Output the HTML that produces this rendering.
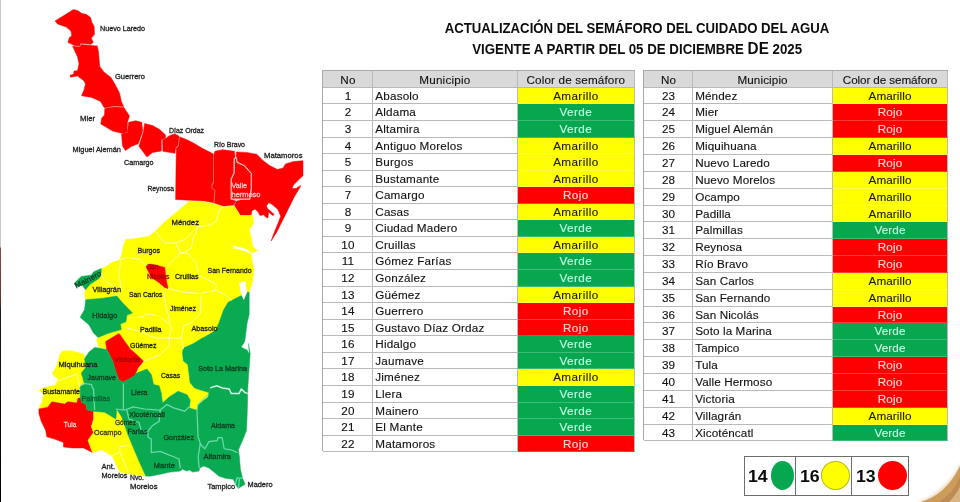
<!DOCTYPE html>
<html lang="es"><head><meta charset="utf-8"><title>Semáforo del cuidado del agua</title>
<style>
html,body{margin:0;padding:0;background:#fff}
body{width:960px;height:502px;position:relative;overflow:hidden;font-family:"Liberation Sans", sans-serif;color:#111}
.edge{position:absolute;left:0;top:0;width:1.3px;height:502px;background:linear-gradient(#c6c8d4 0,#c8c8cc 247px,#8a4a3a 248px,#6a3326 300px,#1a1a1a 312px,#000 502px)}
.map{position:absolute;left:0;top:0}
.title{position:absolute;left:320px;width:634px;text-align:center;font-weight:bold;font-size:14.6px;line-height:17px;white-space:nowrap;color:#0d0d0d}
.title span.t{display:inline-block;transform-origin:50% 50%}
.tbl{position:absolute;box-sizing:border-box;border-left:1px solid #a9a9a9;border-top:1px solid #a9a9a9}
.row{position:absolute;left:0;width:100%;display:flex;box-sizing:border-box;-webkit-text-stroke:.12px currentColor}
.row.hd{background:#d9d9d9}
.c{box-sizing:border-box;border-right:1px solid #b9b9b9;border-bottom:1px solid #b9b9b9;white-space:nowrap;overflow:hidden;text-align:center;height:100%}
.c.n{padding-left:1.4px}
.c.m{text-align:left;padding-left:2.5px}
.c.m.ctr{text-align:center;padding-left:0}
.c.s{flex:1}
.am,.ve,.ro{border-bottom-color:rgba(255,255,255,.22)}
.am{background:#ffff00;color:#1a1a00}
.ve{background:#07a750;color:#c4ffe4}
.ro{background:#ff0000;color:#ffd9d9}
.legend{position:absolute;left:743.5px;top:455.8px;width:165px;height:39.8px;box-sizing:border-box;border:1px solid #6e6e6e;background:#fff}
.legend .d{position:absolute;top:0;width:1px;height:100%;background:#6e6e6e}
.legend b{position:absolute;top:11.3px;font-size:16.4px;line-height:17px;color:#0a0a0a;transform:scaleX(1.08);transform-origin:0 50%}
.dot{position:absolute;border-radius:50%}
.corner{position:absolute;right:0;bottom:0}
</style></head><body>
<div class="edge"></div>
<svg class="map" width="320" height="502" viewBox="0 0 320 502" font-family='"Liberation Sans", sans-serif' font-size="7.7"><polygon fill="#ff0000" stroke="#ff0000" stroke-width=".5" stroke-linejoin="round" points="55.1,21.0 73.4,9.6 78.2,10.8 81.7,13.5 86.2,14.3 90.6,17.5 91.8,22.3 94.1,26.3 94.5,34.2 91.3,38.2 93.3,42.2 91.0,44.3 80.6,43.3 79.8,45.9 74.2,45.4 67.9,42.2 69.5,37.4 71.8,35.8 71.0,31.0 66.3,27.1 57.5,23.9"/>
<polygon fill="#ff0000" stroke="#ff0000" stroke-width=".5" stroke-linejoin="round" points="72.6,46.2 79.8,47.0 81.1,44.6 91.0,45.4 97.3,45.9 98.6,52.5 99.2,60.5 99.8,66.4 103.8,71.9 111.0,77.5 115.7,85.5 119.7,93.4 121.3,101.4 123.7,106.6 114.1,105.9 104.6,107.8 103.8,107.0 100.6,101.4 91.8,97.4 81.5,95.8 83.9,90.3 85.5,83.9 83.9,80.7 77.5,75.9 70.4,77.2 70.4,75.1 73.5,74.3 74.0,71.1 77.5,70.8 79.0,63.7 77.4,56.5"/>
<polygon fill="#ff0000" stroke="#ff0000" stroke-width=".5" stroke-linejoin="round" points="104.8,108.4 114.1,106.9 123.9,107.6 129.5,115.9 127.4,122.3 127.1,131.8 123.9,133.8 112.7,131.1 100.8,123.9 101.6,118.3 104.5,115.1"/>
<polygon fill="#ff0000" stroke="#ff0000" stroke-width=".5" stroke-linejoin="round" points="128.7,122.3 135.8,120.7 141.7,122.3 142.7,131.1 138.2,143.8 131.8,146.2 125.5,150.6 122.6,146.2 121.5,134.2 127.4,132.6"/>
<polygon fill="#ff0000" stroke="#ff0000" stroke-width=".5" stroke-linejoin="round" points="144.6,123.6 152.5,125.5 159.7,129.5 165.6,135.0 165.3,138.2 161.3,139.8 161.3,151.0 152.5,152.5 147.0,157.0 138.9,146.2 143.5,131.8"/>
<polygon fill="#ff0000" stroke="#ff0000" stroke-width=".5" stroke-linejoin="round" points="166.1,138.2 169.3,135.8 174.8,133.8 179.1,136.3 178.0,145.4 175.6,147.8 174.8,153.3 162.9,151.3 162.6,140.1"/>
<polygon fill="#ff0000" stroke="#ff0000" stroke-width=".5" stroke-linejoin="round" points="179.8,137.0 185.9,139.3 193.9,143.3 201.8,148.1 209.8,152.1 213.3,154.0 213.0,182.3 211.4,185.5 211.7,188.7 214.6,190.3 213.8,199.8 213.5,202.8 204.6,201.0 189.0,200.2 175.6,199.5 176.3,148.3 178.7,145.9"/>
<polygon fill="#ff0000" stroke="#ff0000" stroke-width=".5" stroke-linejoin="round" points="214.9,151.3 222.5,149.7 234.5,151.3 235.0,156.8 233.4,159.2 233.4,172.8 230.5,179.1 230.5,199.5 236.0,201.0 233.6,205.1 223.5,206.2 214.2,203.0 214.6,199.8 215.4,190.0 212.5,188.5 212.2,185.7 213.8,182.5 214.0,154.2"/>
<polygon fill="#ff0000" stroke="#ff0000" stroke-width=".5" stroke-linejoin="round" points="234.4,159.6 236.1,157.6 236.9,162.4 244.0,165.6 251.2,173.6 251.2,188.7 249.6,199.0 231.3,199.0 231.3,179.3 234.2,173.0"/>
<polygon fill="#ff0000" stroke="#ff0000" stroke-width=".5" stroke-linejoin="round" points="236.5,151.9 246.5,152.4 256.8,154.3 263.2,160.7 269.6,165.5 277.5,169.5 283.1,167.9 285.5,163.9 293.5,161.5 303.0,160.7 303.0,170.0 303.0,175.8 299.6,178.8 293.5,185.0 292.0,188.4 295.9,188.6 300.8,185.4 299.6,188.0 294.2,197.1 287.8,209.9 282.3,221.0 276.7,232.2 271.1,241.0 274.3,232.2 278.3,222.6 280.7,216.3 279.1,212.3 277.5,209.1 271.9,204.3 268.7,202.7 266.3,205.9 267.9,209.1 271.9,212.3 274.3,214.7 272.7,215.5 268.7,212.3 267.9,217.9 265.5,217.1 263.9,214.7 259.9,215.5 258.3,212.3 255.1,209.1 252.0,210.7 251.2,214.7 249.2,215.1 240.3,215.1 236.9,209.5 234.4,205.3 236.8,201.0 241.0,200.0 250.4,199.8 252.0,188.7 252.0,173.3 244.5,165.0 237.7,161.8 236.9,157.0 236.0,156.2"/>
<polygon fill="#ffff00" stroke="#ffff00" stroke-width=".5" stroke-linejoin="round" points="189.3,201.2 204.6,201.9 213.5,203.7 223.5,207.0 233.6,206.0 236.9,210.3 240.3,215.9 249.2,215.9 252.5,215.1 253.6,224.0 249.2,229.6 251.4,238.5 252.5,246.3 257.6,250.8 251.4,253.0 248.0,249.6 240.0,247.0 232.4,245.2 233.6,248.5 242.0,250.5 251.0,254.0 252.5,263.0 253.7,270.0 252.6,281.1 249.2,292.3 247.0,292.3 244.8,281.1 239.2,283.4 241.4,292.3 241.4,295.6 228.1,302.3 223.6,310.1 219.1,322.4 215.8,330.2 209.1,334.6 202.4,338.0 193.5,343.6 183.5,348.0 182.4,352.5 183.4,361.0 187.8,364.5 189.0,373.4 190.0,382.4 194.5,387.9 201.2,390.2 209.0,392.5 208.2,396.9 198.1,404.7 197.0,410.3 189.2,408.0 190.3,400.2 187.0,394.7 178.1,391.3 169.2,396.9 162.5,403.0 161.4,393.6 159.1,385.8 153.6,384.6 151.3,374.6 146.9,369.0 135.7,373.5 134.6,375.7 138.0,367.9 143.5,361.2 138.0,355.7 130.2,349.0 124.6,341.2 119.0,333.4 105.6,341.6 106.7,349.0 99.0,347.5 96.7,340.0 98.0,337.4 109.1,332.9 121.4,329.6 120.3,324.0 125.9,321.8 127.0,315.1 132.5,312.9 122.5,302.8 116.9,296.1 102.4,298.3 85.7,299.8 84.5,294.2 85.6,289.7 90.1,284.2 99.0,278.6 101.2,273.0 101.2,268.6 104.6,267.4 111.3,263.0 120.2,259.6 122.4,251.8 123.5,245.2 125.8,239.6 135.8,238.5 149.2,236.2 155.9,230.7 164.8,221.7 175.9,212.8"/>
<polygon fill="#ff0000" stroke="#ff0000" stroke-width=".5" stroke-linejoin="round" points="145.8,266.3 151.4,264.1 164.8,267.4 165.9,278.6 168.1,288.6 164.8,287.5 158.1,281.9 151.4,277.5 148.0,270.8"/>
<polygon fill="#ff0000" stroke="#ff0000" stroke-width=".5" stroke-linejoin="round" points="105.6,341.6 119.0,333.4 124.6,341.2 130.2,349.0 138.0,355.7 143.5,361.2 138.0,367.9 134.6,375.7 123.5,382.0 119.0,380.2 115.7,371.3 112.3,360.1 106.7,349.0"/>
<polygon fill="#09aa52" stroke="#09aa52" stroke-width=".5" stroke-linejoin="round" points="101.2,268.6 93.4,271.9 91.2,275.2 81.2,276.4 74.5,283.0 76.7,286.4 82.3,285.3 85.6,289.7 90.1,284.2 99.0,278.6 101.2,273.0"/>
<polygon fill="#09aa52" stroke="#09aa52" stroke-width=".5" stroke-linejoin="round" points="85.7,299.8 102.4,298.3 116.9,296.1 122.5,302.8 132.5,312.9 127.0,315.1 125.9,321.8 120.3,324.0 121.4,329.6 109.1,332.9 98.0,337.4 93.5,332.9 89.1,325.1 80.2,317.3 84.6,309.5"/>
<polygon fill="#ffff00" stroke="#ffff00" stroke-width=".5" stroke-linejoin="round" points="63.4,350.8 71.2,350.8 83.5,354.1 84.6,358.6 85.7,367.5 81.3,373.1 84.6,384.2 80.2,386.4 80.2,397.0 78.0,397.8 76.8,402.6 67.9,401.5 64.6,403.8 51.5,401.5 47.9,407.0 38.9,409.0 42.3,401.2 43.4,394.5 40.1,390.0 38.9,390.9 43.4,387.5 55.6,385.3 57.9,378.6 52.3,374.2 56.8,365.3 60.1,354.1"/>
<polygon fill="#ff0000" stroke="#ff0000" stroke-width=".5" stroke-linejoin="round" points="38.9,409.0 47.9,407.2 51.7,401.8 64.6,404.1 67.9,401.8 76.8,403.0 78.0,398.3 80.6,397.8 81.3,402.3 85.8,404.5 86.9,410.1 93.6,411.2 93.6,419.0 91.3,426.8 93.6,432.4 88.0,440.2 92.4,452.4 83.5,448.0 72.4,448.0 63.5,446.9 63.5,442.4 54.6,439.1 46.8,436.8 45.6,430.2 41.2,421.2 38.9,413.4"/>
<polygon fill="#ffff00" stroke="#ffff00" stroke-width=".5" stroke-linejoin="round" points="93.6,411.2 104.7,412.3 115.9,419.0 116.7,409.0 122.3,417.9 127.9,434.6 133.4,448.0 140.1,463.6 145.8,476.1 129.8,474.1 119.9,472.1 116.9,465.7 111.9,455.8 102.0,449.8 92.4,452.4 88.0,440.2 93.6,432.4 91.3,426.8 93.6,419.0"/>
<polygon fill="#09aa52" stroke="#09aa52" stroke-width=".5" stroke-linejoin="round" points="94.6,347.4 101.3,348.5 106.7,349.5 112.3,360.1 115.7,371.3 119.0,380.2 123.5,382.0 134.6,375.7 135.7,373.5 146.9,369.0 151.3,374.6 153.6,384.6 159.1,385.8 161.4,393.6 162.5,403.0 169.2,396.9 178.1,391.3 187.0,394.7 190.3,400.2 189.2,408.0 197.0,410.3 198.1,404.7 208.2,396.9 209.0,392.5 210.1,387.9 216.8,385.7 222.4,387.9 229.1,389.0 231.3,393.5 239.1,393.5 241.3,389.0 244.7,392.4 247.6,393.5 247.6,400.0 247.1,416.3 246.5,430.5 242.5,440.6 238.4,449.8 239.4,456.9 240.4,469.1 242.5,478.2 245.1,484.3 241.4,486.4 238.4,488.4 235.4,484.3 233.3,479.3 225.2,478.2 219.1,476.2 214.0,472.1 208.9,468.1 203.9,466.0 199.8,468.1 198.8,471.1 192.7,472.1 189.6,470.1 186.6,471.1 182.5,469.1 180.5,471.1 170.3,472.1 160.2,474.2 150.0,476.2 145.8,476.1 140.1,463.6 133.4,448.0 127.9,434.6 122.3,417.9 116.7,409.0 115.9,419.0 104.7,412.3 93.6,411.2 86.9,410.1 85.8,404.5 81.3,402.3 80.6,397.8 80.2,397.0 80.2,386.4 84.6,384.2 81.3,373.1 85.7,367.5 84.6,358.6 89.1,351.9"/>
<polygon fill="#09aa52" stroke="#09aa52" stroke-width=".5" stroke-linejoin="round" points="241.4,295.6 243.7,300.1 247.0,292.3 249.2,292.3 249.2,314.6 247.0,323.5 244.8,341.3 241.4,346.9 247.0,350.2 248.4,343.6 250.2,353.4 249.1,369.0 248.0,384.6 247.6,393.5 244.7,392.4 241.3,389.0 239.1,393.5 231.3,393.5 229.1,389.0 222.4,387.9 216.8,385.7 210.1,387.9 209.0,392.5 201.2,390.2 194.5,387.9 190.0,382.4 189.0,373.4 187.8,364.5 183.4,361.0 182.4,352.5 183.5,348.0 193.5,343.6 202.4,338.0 209.1,334.6 215.8,330.2 219.1,322.4 223.6,310.1 228.1,302.3"/>
<polygon fill="#fff" points="239.2,283.4 244.8,281.1 247.0,292.3 243.7,300.1 241.4,292.3"/>
<polygon fill="#fff" points="241.4,282.0 245.8,282.0 243.6,294.2 240.2,292.0"/>
<polygon fill="#fff" points="241.3,346.7 248.0,342.2 249.1,353.4 246.8,349.0"/>
<polyline fill="none" stroke="#fffff0" stroke-opacity=".85" stroke-width=".9" points="223.5,206.8 219.0,209.5 216.8,220.7 210.2,225.1 198.2,226.6 193.4,238.5 191.2,248.5 184.8,251.9 180.4,253.0"/>
<polyline fill="none" stroke="#fffff0" stroke-opacity=".85" stroke-width=".9" points="198.2,226.6 184.8,239.6 175.9,242.9 164.8,242.9 160.3,237.4 155.9,231.8"/>
<polyline fill="none" stroke="#fffff0" stroke-opacity=".85" stroke-width=".9" points="175.9,242.9 180.4,253.0 167.0,266.3"/>
<polyline fill="none" stroke="#fffff0" stroke-opacity=".85" stroke-width=".9" points="180.4,253.0 188.0,253.4 195.9,262.3 199.2,275.7 215.9,283.5 215.9,290.2"/>
<polyline fill="none" stroke="#fffff0" stroke-opacity=".85" stroke-width=".9" points="145.8,266.3 140.2,259.6 126.9,257.4 120.6,259.6"/>
<polyline fill="none" stroke="#fffff0" stroke-opacity=".85" stroke-width=".9" points="120.6,259.6 119.1,275.2 121.3,288.6 118.0,295.3"/>
<polyline fill="none" stroke="#fffff0" stroke-opacity=".85" stroke-width=".9" points="168.1,288.6 184.7,292.4 200.3,293.5 215.9,290.2 224.8,294.6 231.5,300.2"/>
<polyline fill="none" stroke="#fffff0" stroke-opacity=".85" stroke-width=".9" points="163.5,290.0 165.8,306.9 169.1,318.0 171.3,329.2 169.1,338.1"/>
<polyline fill="none" stroke="#fffff0" stroke-opacity=".85" stroke-width=".9" points="201.4,294.6 200.3,313.6 191.4,322.5 183.6,325.8 181.4,338.1 183.6,349.0"/>
<polyline fill="none" stroke="#fffff0" stroke-opacity=".85" stroke-width=".9" points="129.0,318.0 143.5,316.9 144.6,313.6 159.1,315.8 166.9,322.5 170.0,324.0"/>
<polyline fill="none" stroke="#fffff0" stroke-opacity=".85" stroke-width=".9" points="126.8,328.0 140.1,331.4 155.7,338.1 169.1,338.1"/>
<polyline fill="none" stroke="#fffff0" stroke-opacity=".85" stroke-width=".9" points="143.5,361.2 160.0,355.0 170.0,345.0 169.1,338.1"/>
<polyline fill="none" stroke="#fffff0" stroke-opacity=".85" stroke-width=".9" points="169.1,338.1 181.4,338.1"/>
<polyline fill="none" stroke="#fffff0" stroke-opacity=".85" stroke-width=".9" points="101.2,273.0 104.0,280.0 110.0,284.0 117.0,288.0"/>
<polyline fill="none" stroke="#fffff0" stroke-opacity=".85" stroke-width=".9" points="52.9,382.8 76.8,373.9 79.8,386.8"/>
<polyline fill="none" stroke="#fffff0" stroke-opacity=".85" stroke-width=".9" points="111.9,455.8 119.9,451.8 119.9,446.8 128.8,444.8"/>
<polyline fill="none" stroke="#fffff0" stroke-opacity=".85" stroke-width=".9" points="119.9,451.8 128.8,473.7"/>
<polyline fill="none" stroke="#7fe2b9" stroke-opacity=".85" stroke-width="1.25" points="80.2,386.0 83.5,383.3 91.3,384.5 93.6,390.0 94.7,410.1"/>
<polyline fill="none" stroke="#7fe2b9" stroke-opacity=".85" stroke-width="1.25" points="123.4,383.4 123.4,409.0"/>
<polyline fill="none" stroke="#7fe2b9" stroke-opacity=".85" stroke-width="1.25" points="115.6,409.0 124.5,410.1 133.4,406.8 144.6,409.0 160.2,410.1 166.9,404.6 173.6,407.9 184.7,411.2 189.2,406.8"/>
<polyline fill="none" stroke="#7fe2b9" stroke-opacity=".85" stroke-width="1.25" points="160.2,410.1 159.1,421.3 152.4,425.7 147.9,431.3 147.9,436.9 151.3,439.1 151.3,452.5 160.2,451.4 171.3,455.8 179.1,459.2 180.3,468.1"/>
<polyline fill="none" stroke="#7fe2b9" stroke-opacity=".85" stroke-width="1.25" points="126.8,410.1 129.0,419.0 139.0,422.4 141.2,430.2 146.8,432.4"/>
<polyline fill="none" stroke="#7fe2b9" stroke-opacity=".85" stroke-width="1.25" points="197.0,410.1 198.1,436.9 200.3,443.6 198.1,457.0 199.2,468.0"/>
<polyline fill="none" stroke="#7fe2b9" stroke-opacity=".85" stroke-width="1.25" points="199.8,443.7 204.9,448.8 208.9,441.7 217.1,440.6 218.1,437.6 222.1,437.6 224.2,448.8 231.3,449.8 237.4,452.8"/>
<polyline fill="none" stroke="#7fe2b9" stroke-opacity=".85" stroke-width="1.25" points="207.9,394.6 197.9,404.6 197.0,410.1"/>
<polyline fill="none" stroke="#ffffff" stroke-opacity=".85" stroke-width="1.5" points="210.1,387.9 216.8,385.7 222.4,387.9 229.1,389.0 231.3,393.5 239.1,393.5 241.3,389.0 244.7,392.4 247.6,393.5"/>
<polyline fill="none" stroke="#7fe2b9" stroke-opacity=".85" stroke-width="1.25" points="235.4,484.3 237.0,478.0 242.5,478.2"/>
<polyline fill="none" stroke="#7fe2b9" stroke-opacity=".85" stroke-width="1.25" points="238.4,488.4 239.5,479.0"/>
<polygon fill="none" stroke="#ffd6d6" stroke-width=".9" points="234.4,159.6 236.1,157.6 236.9,162.4 244.0,165.6 251.2,173.6 251.2,188.7 249.6,199.0 231.3,199.0 231.3,179.3 234.2,173.0"/>
<text x="100.0" y="31.0" fill="#1c1c1c" stroke="#1c1c1c" stroke-width=".3" textLength="45.0" lengthAdjust="spacingAndGlyphs">Nuevo Laredo</text>
<text x="115.0" y="79.0" fill="#1c1c1c" stroke="#1c1c1c" stroke-width=".3" textLength="30.0" lengthAdjust="spacingAndGlyphs">Guerrero</text>
<text x="80.0" y="120.5" fill="#1c1c1c" stroke="#1c1c1c" stroke-width=".3" textLength="15.0" lengthAdjust="spacingAndGlyphs">Mier</text>
<text x="72.5" y="152.0" fill="#1c1c1c" stroke="#1c1c1c" stroke-width=".3" textLength="48.5" lengthAdjust="spacingAndGlyphs">Miguel Alemán</text>
<text x="124.0" y="164.7" fill="#1c1c1c" stroke="#1c1c1c" stroke-width=".3" textLength="29.5" lengthAdjust="spacingAndGlyphs">Camargo</text>
<text x="169.0" y="132.5" fill="#1c1c1c" stroke="#1c1c1c" stroke-width=".3" textLength="35.0" lengthAdjust="spacingAndGlyphs">Díaz Ordaz</text>
<text x="214.0" y="146.9" fill="#1c1c1c" stroke="#1c1c1c" stroke-width=".3" textLength="31.0" lengthAdjust="spacingAndGlyphs">Río Bravo</text>
<text x="264.0" y="158.0" fill="#1c1c1c" stroke="#1c1c1c" stroke-width=".3" textLength="38.5" lengthAdjust="spacingAndGlyphs">Matamoros</text>
<text x="147.5" y="191.0" fill="#1c1c1c" stroke="#1c1c1c" stroke-width=".3" textLength="26.5" lengthAdjust="spacingAndGlyphs">Reynosa</text>
<text x="231.5" y="187.5" fill="#ffc9c9" stroke="#ffc9c9" stroke-width=".3" textLength="15.5" lengthAdjust="spacingAndGlyphs">Valle</text>
<text x="231.5" y="196.7" fill="#ffc9c9" stroke="#ffc9c9" stroke-width=".3" textLength="29.0" lengthAdjust="spacingAndGlyphs">hermoso</text>
<text x="171.5" y="225.0" fill="#1c1c1c" stroke="#1c1c1c" stroke-width=".3" textLength="27.5" lengthAdjust="spacingAndGlyphs">Méndez</text>
<text x="137.5" y="252.5" fill="#1c1c1c" stroke="#1c1c1c" stroke-width=".3" textLength="22.5" lengthAdjust="spacingAndGlyphs">Burgos</text>
<text x="147.0" y="269.0" fill="#a00000" stroke="#a00000" stroke-width=".3" textLength="11.5" lengthAdjust="spacingAndGlyphs">San</text>
<text x="147.0" y="278.5" fill="#a00000" stroke="#a00000" stroke-width=".3" textLength="22.5" lengthAdjust="spacingAndGlyphs">Nicolas</text>
<text x="175.0" y="278.5" fill="#1c1c1c" stroke="#1c1c1c" stroke-width=".3" textLength="23.5" lengthAdjust="spacingAndGlyphs">Cruillas</text>
<text x="207.5" y="272.5" fill="#1c1c1c" stroke="#1c1c1c" stroke-width=".3" textLength="44.0" lengthAdjust="spacingAndGlyphs">San Fernando</text>
<text x="92.5" y="292.0" fill="#1c1c1c" stroke="#1c1c1c" stroke-width=".3" textLength="28.5" lengthAdjust="spacingAndGlyphs">Villagrán</text>
<text x="129.0" y="297.0" fill="#1c1c1c" stroke="#1c1c1c" stroke-width=".3" textLength="33.5" lengthAdjust="spacingAndGlyphs">San Carlos</text>
<text x="170.0" y="311.0" fill="#1c1c1c" stroke="#1c1c1c" stroke-width=".3" textLength="26.0" lengthAdjust="spacingAndGlyphs">Jiménez</text>
<text x="92.3" y="317.7" fill="#083a1e" stroke="#083a1e" stroke-width=".3" textLength="25.0" lengthAdjust="spacingAndGlyphs">Hidalgo</text>
<text x="140.0" y="332.0" fill="#1c1c1c" stroke="#1c1c1c" stroke-width=".3" textLength="21.5" lengthAdjust="spacingAndGlyphs">Padilla</text>
<text x="191.5" y="331.0" fill="#1c1c1c" stroke="#1c1c1c" stroke-width=".3" textLength="26.0" lengthAdjust="spacingAndGlyphs">Abasolo</text>
<text x="130.0" y="347.5" fill="#1c1c1c" stroke="#1c1c1c" stroke-width=".3" textLength="26.5" lengthAdjust="spacingAndGlyphs">Güémez</text>
<text x="114.0" y="362.0" fill="#a00000" stroke="#a00000" stroke-width=".3" textLength="26.0" lengthAdjust="spacingAndGlyphs">Victoria</text>
<text x="58.5" y="366.5" fill="#1c1c1c" stroke="#1c1c1c" stroke-width=".3" textLength="39.0" lengthAdjust="spacingAndGlyphs">Miquihuana</text>
<text x="87.5" y="380.0" fill="#083a1e" stroke="#083a1e" stroke-width=".3" textLength="28.5" lengthAdjust="spacingAndGlyphs">Jaumave</text>
<text x="161.0" y="377.9" fill="#1c1c1c" stroke="#1c1c1c" stroke-width=".3" textLength="19.0" lengthAdjust="spacingAndGlyphs">Casas</text>
<text x="198.3" y="371.3" fill="#083a1e" stroke="#083a1e" stroke-width=".3" textLength="48.7" lengthAdjust="spacingAndGlyphs">Soto La Marina</text>
<text x="42.5" y="393.5" fill="#1c1c1c" stroke="#1c1c1c" stroke-width=".3" textLength="37.5" lengthAdjust="spacingAndGlyphs">Bustamante</text>
<text x="81.5" y="401.0" fill="#0b5a30" stroke="#0b5a30" stroke-width=".3" textLength="28.5" lengthAdjust="spacingAndGlyphs">Palmillas</text>
<text x="131.0" y="395.0" fill="#083a1e" stroke="#083a1e" stroke-width=".3" textLength="16.5" lengthAdjust="spacingAndGlyphs">Llera</text>
<text x="129.0" y="417.0" fill="#083a1e" stroke="#083a1e" stroke-width=".3" textLength="36.0" lengthAdjust="spacingAndGlyphs">Xicoténcatl</text>
<text x="115.0" y="425.0" fill="#1e3a10" stroke="#1e3a10" stroke-width=".3" textLength="21.0" lengthAdjust="spacingAndGlyphs">Gómez</text>
<text x="127.5" y="433.5" fill="#083a1e" stroke="#083a1e" stroke-width=".3" textLength="20.0" lengthAdjust="spacingAndGlyphs">Farías</text>
<text x="63.8" y="427.0" fill="#ffc9c9" stroke="#ffc9c9" stroke-width=".3" textLength="12.5" lengthAdjust="spacingAndGlyphs">Tula</text>
<text x="94.0" y="435.0" fill="#3a3a00" stroke="#3a3a00" stroke-width=".3" textLength="27.5" lengthAdjust="spacingAndGlyphs">Ocampo</text>
<text x="163.5" y="439.9" fill="#083a1e" stroke="#083a1e" stroke-width=".3" textLength="30.5" lengthAdjust="spacingAndGlyphs">González</text>
<text x="211.0" y="428.3" fill="#083a1e" stroke="#083a1e" stroke-width=".3" textLength="24.0" lengthAdjust="spacingAndGlyphs">Aldama</text>
<text x="203.5" y="458.9" fill="#083a1e" stroke="#083a1e" stroke-width=".3" textLength="27.5" lengthAdjust="spacingAndGlyphs">Altamira</text>
<text x="153.5" y="467.5" fill="#083a1e" stroke="#083a1e" stroke-width=".3" textLength="21.5" lengthAdjust="spacingAndGlyphs">Mante</text>
<text x="101.5" y="468.5" fill="#1c1c1c" stroke="#1c1c1c" stroke-width=".3" textLength="13.5" lengthAdjust="spacingAndGlyphs">Ant.</text>
<text x="101.5" y="478.0" fill="#1c1c1c" stroke="#1c1c1c" stroke-width=".3" textLength="26.0" lengthAdjust="spacingAndGlyphs">Morelos</text>
<text x="130.0" y="479.8" fill="#1c1c1c" stroke="#1c1c1c" stroke-width=".3" textLength="14.0" lengthAdjust="spacingAndGlyphs">Nvo.</text>
<text x="130.0" y="488.5" fill="#1c1c1c" stroke="#1c1c1c" stroke-width=".3" textLength="27.5" lengthAdjust="spacingAndGlyphs">Morelos</text>
<text x="207.5" y="488.5" fill="#1c1c1c" stroke="#1c1c1c" stroke-width=".3" textLength="27.5" lengthAdjust="spacingAndGlyphs">Tampico</text>
<text x="247.5" y="487.0" fill="#1c1c1c" stroke="#1c1c1c" stroke-width=".3" textLength="25.0" lengthAdjust="spacingAndGlyphs">Madero</text>
<text transform="translate(76.3,288.6) rotate(-27.5)" fill="#0b3d22" stroke="#0b3d22" stroke-width=".3" textLength="29" lengthAdjust="spacingAndGlyphs">Mainero</text></svg>
<div class="title" style="top:19.6px"><span class="t" id="t1" style="transform:scaleX(.9025)">ACTUALIZACIÓN DEL SEMÁFORO DEL CUIDADO DEL AGUA</span></div>
<div class="title" style="top:40.6px"><span class="t" id="t2" style="transform:scaleX(.9105)">VIGENTE A PARTIR DEL 05 DE DICIEMBRE <span style="font-size:16.8px;line-height:10px">DE</span> 2025</span></div>
<div class="tbl" style="left:321.8px;top:70.2px;width:313.0px;height:381.0px;font-size:11.7px;letter-spacing:0.18px">
<div class="row hd" style="top:0;height:16.70px;line-height:17.30px"><div class="c n" style="width:50.0px">No</div><div class="c m ctr" style="width:145.1px">Municipio</div><div class="c s" style="width:117.9px;letter-spacing:0.15px">Color de semáforo</div></div>
<div class="row" style="top:16.70px;height:16.56px;line-height:16.26px"><div class="c n" style="width:50.0px">1</div><div class="c m" style="width:145.1px">Abasolo</div><div class="c s am" style="width:117.9px;letter-spacing:0.4px">Amarillo</div></div>
<div class="row" style="top:33.26px;height:16.56px;line-height:16.26px"><div class="c n" style="width:50.0px">2</div><div class="c m" style="width:145.1px">Aldama</div><div class="c s ve" style="width:117.9px;letter-spacing:0.4px">Verde</div></div>
<div class="row" style="top:49.82px;height:16.56px;line-height:16.26px"><div class="c n" style="width:50.0px">3</div><div class="c m" style="width:145.1px">Altamira</div><div class="c s ve" style="width:117.9px;letter-spacing:0.4px">Verde</div></div>
<div class="row" style="top:66.38px;height:16.56px;line-height:16.26px"><div class="c n" style="width:50.0px">4</div><div class="c m" style="width:145.1px">Antiguo Morelos</div><div class="c s am" style="width:117.9px;letter-spacing:0.4px">Amarillo</div></div>
<div class="row" style="top:82.94px;height:16.56px;line-height:16.26px"><div class="c n" style="width:50.0px">5</div><div class="c m" style="width:145.1px">Burgos</div><div class="c s am" style="width:117.9px;letter-spacing:0.4px">Amarillo</div></div>
<div class="row" style="top:99.50px;height:16.56px;line-height:16.26px"><div class="c n" style="width:50.0px">6</div><div class="c m" style="width:145.1px">Bustamante</div><div class="c s am" style="width:117.9px;letter-spacing:0.4px">Amarillo</div></div>
<div class="row" style="top:116.06px;height:16.56px;line-height:16.26px"><div class="c n" style="width:50.0px">7</div><div class="c m" style="width:145.1px">Camargo</div><div class="c s ro" style="width:117.9px;letter-spacing:0.4px">Rojo</div></div>
<div class="row" style="top:132.62px;height:16.56px;line-height:16.26px"><div class="c n" style="width:50.0px">8</div><div class="c m" style="width:145.1px">Casas</div><div class="c s am" style="width:117.9px;letter-spacing:0.4px">Amarillo</div></div>
<div class="row" style="top:149.18px;height:16.56px;line-height:16.26px"><div class="c n" style="width:50.0px">9</div><div class="c m" style="width:145.1px">Ciudad Madero</div><div class="c s ve" style="width:117.9px;letter-spacing:0.4px">Verde</div></div>
<div class="row" style="top:165.74px;height:16.56px;line-height:16.26px"><div class="c n" style="width:50.0px">10</div><div class="c m" style="width:145.1px">Cruillas</div><div class="c s am" style="width:117.9px;letter-spacing:0.4px">Amarillo</div></div>
<div class="row" style="top:182.30px;height:16.56px;line-height:16.26px"><div class="c n" style="width:50.0px">11</div><div class="c m" style="width:145.1px">Gómez Farías</div><div class="c s ve" style="width:117.9px;letter-spacing:0.4px">Verde</div></div>
<div class="row" style="top:198.86px;height:16.56px;line-height:16.26px"><div class="c n" style="width:50.0px">12</div><div class="c m" style="width:145.1px">González</div><div class="c s ve" style="width:117.9px;letter-spacing:0.4px">Verde</div></div>
<div class="row" style="top:215.42px;height:16.56px;line-height:16.26px"><div class="c n" style="width:50.0px">13</div><div class="c m" style="width:145.1px">Güémez</div><div class="c s am" style="width:117.9px;letter-spacing:0.4px">Amarillo</div></div>
<div class="row" style="top:231.98px;height:16.56px;line-height:16.26px"><div class="c n" style="width:50.0px">14</div><div class="c m" style="width:145.1px">Guerrero</div><div class="c s ro" style="width:117.9px;letter-spacing:0.4px">Rojo</div></div>
<div class="row" style="top:248.54px;height:16.56px;line-height:16.26px"><div class="c n" style="width:50.0px">15</div><div class="c m" style="width:145.1px">Gustavo Díaz Ordaz</div><div class="c s ro" style="width:117.9px;letter-spacing:0.4px">Rojo</div></div>
<div class="row" style="top:265.10px;height:16.56px;line-height:16.26px"><div class="c n" style="width:50.0px">16</div><div class="c m" style="width:145.1px">Hidalgo</div><div class="c s ve" style="width:117.9px;letter-spacing:0.4px">Verde</div></div>
<div class="row" style="top:281.66px;height:16.56px;line-height:16.26px"><div class="c n" style="width:50.0px">17</div><div class="c m" style="width:145.1px">Jaumave</div><div class="c s ve" style="width:117.9px;letter-spacing:0.4px">Verde</div></div>
<div class="row" style="top:298.22px;height:16.56px;line-height:16.26px"><div class="c n" style="width:50.0px">18</div><div class="c m" style="width:145.1px">Jiménez</div><div class="c s am" style="width:117.9px;letter-spacing:0.4px">Amarillo</div></div>
<div class="row" style="top:314.78px;height:16.56px;line-height:16.26px"><div class="c n" style="width:50.0px">19</div><div class="c m" style="width:145.1px">Llera</div><div class="c s ve" style="width:117.9px;letter-spacing:0.4px">Verde</div></div>
<div class="row" style="top:331.34px;height:16.56px;line-height:16.26px"><div class="c n" style="width:50.0px">20</div><div class="c m" style="width:145.1px">Mainero</div><div class="c s ve" style="width:117.9px;letter-spacing:0.4px">Verde</div></div>
<div class="row" style="top:347.90px;height:16.56px;line-height:16.26px"><div class="c n" style="width:50.0px">21</div><div class="c m" style="width:145.1px">El Mante</div><div class="c s ve" style="width:117.9px;letter-spacing:0.4px">Verde</div></div>
<div class="row" style="top:364.46px;height:16.56px;line-height:16.26px"><div class="c n" style="width:50.0px">22</div><div class="c m" style="width:145.1px">Matamoros</div><div class="c s ro" style="width:117.9px;letter-spacing:0.4px">Rojo</div></div>
</div>
<div class="tbl" style="left:642.9px;top:69.8px;width:304.7px;height:370.7px;font-size:11.7px;letter-spacing:0.1px">
<div class="row hd" style="top:0;height:16.80px;line-height:17.40px"><div class="c n" style="width:48.8px">No</div><div class="c m ctr" style="width:140.8px">Municipio</div><div class="c s" style="width:115.1px;letter-spacing:-0.1px">Color de semáforo</div></div>
<div class="row" style="top:16.80px;height:16.85px;line-height:16.55px"><div class="c n" style="width:48.8px">23</div><div class="c m" style="width:140.8px">Méndez</div><div class="c s am" style="width:115.1px;letter-spacing:0.1px">Amarillo</div></div>
<div class="row" style="top:33.65px;height:16.85px;line-height:16.55px"><div class="c n" style="width:48.8px">24</div><div class="c m" style="width:140.8px">Mier</div><div class="c s ro" style="width:115.1px;letter-spacing:0.1px">Rojo</div></div>
<div class="row" style="top:50.50px;height:16.85px;line-height:16.55px"><div class="c n" style="width:48.8px">25</div><div class="c m" style="width:140.8px">Miguel Alemán</div><div class="c s ro" style="width:115.1px;letter-spacing:0.1px">Rojo</div></div>
<div class="row" style="top:67.35px;height:16.85px;line-height:16.55px"><div class="c n" style="width:48.8px">26</div><div class="c m" style="width:140.8px">Miquihuana</div><div class="c s am" style="width:115.1px;letter-spacing:0.1px">Amarillo</div></div>
<div class="row" style="top:84.20px;height:16.85px;line-height:16.55px"><div class="c n" style="width:48.8px">27</div><div class="c m" style="width:140.8px">Nuevo Laredo</div><div class="c s ro" style="width:115.1px;letter-spacing:0.1px">Rojo</div></div>
<div class="row" style="top:101.05px;height:16.85px;line-height:16.55px"><div class="c n" style="width:48.8px">28</div><div class="c m" style="width:140.8px">Nuevo Morelos</div><div class="c s am" style="width:115.1px;letter-spacing:0.1px">Amarillo</div></div>
<div class="row" style="top:117.90px;height:16.85px;line-height:16.55px"><div class="c n" style="width:48.8px">29</div><div class="c m" style="width:140.8px">Ocampo</div><div class="c s am" style="width:115.1px;letter-spacing:0.1px">Amarillo</div></div>
<div class="row" style="top:134.75px;height:16.85px;line-height:16.55px"><div class="c n" style="width:48.8px">30</div><div class="c m" style="width:140.8px">Padilla</div><div class="c s am" style="width:115.1px;letter-spacing:0.1px">Amarillo</div></div>
<div class="row" style="top:151.60px;height:16.85px;line-height:16.55px"><div class="c n" style="width:48.8px">31</div><div class="c m" style="width:140.8px">Palmillas</div><div class="c s ve" style="width:115.1px;letter-spacing:0.1px">Verde</div></div>
<div class="row" style="top:168.45px;height:16.85px;line-height:16.55px"><div class="c n" style="width:48.8px">32</div><div class="c m" style="width:140.8px">Reynosa</div><div class="c s ro" style="width:115.1px;letter-spacing:0.1px">Rojo</div></div>
<div class="row" style="top:185.30px;height:16.85px;line-height:16.55px"><div class="c n" style="width:48.8px">33</div><div class="c m" style="width:140.8px">Río Bravo</div><div class="c s ro" style="width:115.1px;letter-spacing:0.1px">Rojo</div></div>
<div class="row" style="top:202.15px;height:16.85px;line-height:16.55px"><div class="c n" style="width:48.8px">34</div><div class="c m" style="width:140.8px">San Carlos</div><div class="c s am" style="width:115.1px;letter-spacing:0.1px">Amarillo</div></div>
<div class="row" style="top:219.00px;height:16.85px;line-height:16.55px"><div class="c n" style="width:48.8px">35</div><div class="c m" style="width:140.8px">San Fernando</div><div class="c s am" style="width:115.1px;letter-spacing:0.1px">Amarillo</div></div>
<div class="row" style="top:235.85px;height:16.85px;line-height:16.55px"><div class="c n" style="width:48.8px">36</div><div class="c m" style="width:140.8px">San Nicolás</div><div class="c s ro" style="width:115.1px;letter-spacing:0.1px">Rojo</div></div>
<div class="row" style="top:252.70px;height:16.85px;line-height:16.55px"><div class="c n" style="width:48.8px">37</div><div class="c m" style="width:140.8px">Soto la Marina</div><div class="c s ve" style="width:115.1px;letter-spacing:0.1px">Verde</div></div>
<div class="row" style="top:269.55px;height:16.85px;line-height:16.55px"><div class="c n" style="width:48.8px">38</div><div class="c m" style="width:140.8px">Tampico</div><div class="c s ve" style="width:115.1px;letter-spacing:0.1px">Verde</div></div>
<div class="row" style="top:286.40px;height:16.85px;line-height:16.55px"><div class="c n" style="width:48.8px">39</div><div class="c m" style="width:140.8px">Tula</div><div class="c s ro" style="width:115.1px;letter-spacing:0.1px">Rojo</div></div>
<div class="row" style="top:303.25px;height:16.85px;line-height:16.55px"><div class="c n" style="width:48.8px">40</div><div class="c m" style="width:140.8px">Valle Hermoso</div><div class="c s ro" style="width:115.1px;letter-spacing:0.1px">Rojo</div></div>
<div class="row" style="top:320.10px;height:16.85px;line-height:16.55px"><div class="c n" style="width:48.8px">41</div><div class="c m" style="width:140.8px">Victoria</div><div class="c s ro" style="width:115.1px;letter-spacing:0.1px">Rojo</div></div>
<div class="row" style="top:336.95px;height:16.85px;line-height:16.55px"><div class="c n" style="width:48.8px">42</div><div class="c m" style="width:140.8px">Villagrán</div><div class="c s am" style="width:115.1px;letter-spacing:0.1px">Amarillo</div></div>
<div class="row" style="top:353.80px;height:16.85px;line-height:16.55px"><div class="c n" style="width:48.8px">43</div><div class="c m" style="width:140.8px">Xicoténcatl</div><div class="c s ve" style="width:115.1px;letter-spacing:0.1px">Verde</div></div>
</div>
<div class="legend">
<div class="d" style="left:50.6px"></div><div class="d" style="left:106.5px"></div>
<b style="left:3.6px">14</b><span class="dot" style="left:26.2px;top:4.6px;width:23.6px;height:29px;background:#07a750"></span>
<b style="left:55.5px">16</b><span class="dot" style="left:76.2px;top:4.6px;width:29px;height:29px;background:#ffff00;box-shadow:inset 0 0 0 1px #b9b92a"></span>
<b style="left:111.5px">13</b><span class="dot" style="left:133px;top:4.6px;width:29px;height:29px;background:#ff0000"></span>
</div>
<svg class="corner" width="60" height="60" viewBox="900 442 60 60">
<defs><filter id="bl" x="-20%" y="-20%" width="140%" height="140%"><feGaussianBlur stdDeviation="1.6"/></filter></defs>
<path d="M915 504 Q947 491 962 461 L962 504 Z" fill="#ecdcc4" filter="url(#bl)"/>
<path d="M920.4 502 Q946 495 960 466 L960 502 Z" fill="#cd9c5a"/>
<path d="M939 502 Q953 494 960 476.5 L960 502 Z" fill="#bd8b54"/>
<path d="M949 502 Q956 495 960 486.5 L960 502 Z" fill="#d6b483"/>
</svg>
</body></html>
